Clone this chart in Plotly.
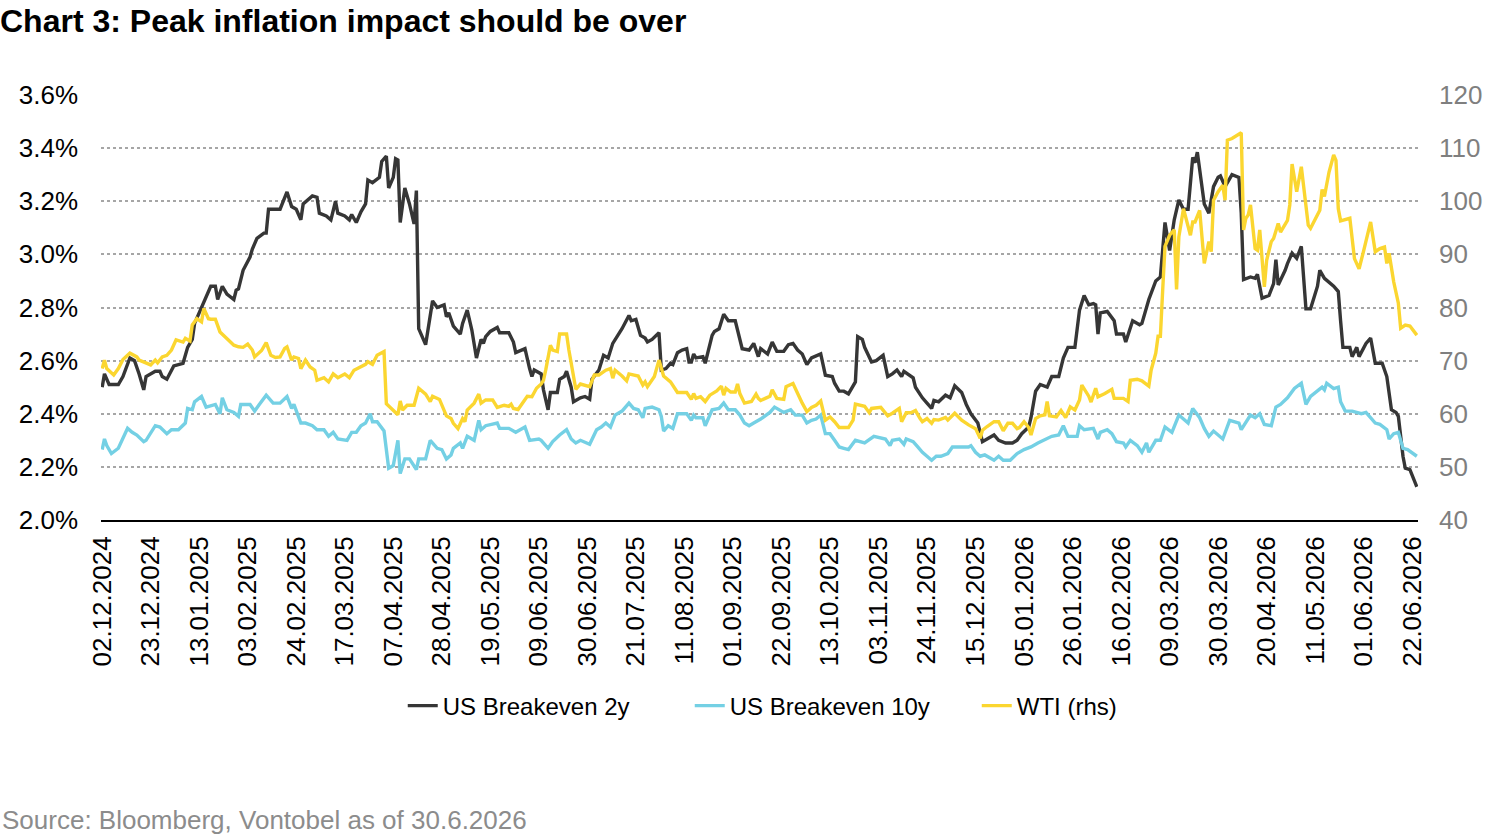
import plotly.graph_objects as go

# ---------------- data ----------------
be2y = [("2024-12-02",2.50),("2024-12-03",2.55),("2024-12-05",2.51),("2024-12-09",2.51),("2024-12-11",2.54),("2024-12-14",2.61),("2024-12-16",2.60),("2024-12-18",2.55),("2024-12-20",2.49),("2024-12-21",2.54),("2024-12-25",2.56),("2024-12-27",2.56),("2024-12-28",2.54),("2024-12-30",2.53),("2025-01-02",2.58),("2025-01-06",2.59),("2025-01-08",2.65),("2025-01-10",2.68),("2025-01-11",2.74),("2025-01-15",2.82),("2025-01-16",2.84),("2025-01-18",2.88),("2025-01-20",2.88),("2025-01-21",2.83),("2025-01-23",2.88),("2025-01-25",2.85),("2025-01-28",2.83),("2025-01-29",2.865),("2025-01-30",2.87),("2025-02-01",2.94),("2025-02-04",2.99),("2025-02-05",3.02),("2025-02-07",3.06),("2025-02-10",3.08),("2025-02-11",3.08),("2025-02-12",3.17),("2025-02-17",3.17),("2025-02-20",3.235),("2025-02-22",3.18),("2025-02-24",3.17),("2025-02-26",3.13),("2025-02-27",3.19),("2025-03-03",3.22),("2025-03-05",3.215),("2025-03-06",3.155),("2025-03-09",3.145),("2025-03-11",3.13),("2025-03-13",3.20),("2025-03-14",3.155),("2025-03-17",3.145),("2025-03-19",3.13),("2025-03-20",3.15),("2025-03-22",3.12),("2025-03-24",3.16),("2025-03-26",3.19),("2025-03-27",3.28),("2025-03-29",3.27),("2025-04-01",3.29),("2025-04-02",3.35),("2025-04-04",3.37),("2025-04-05",3.25),("2025-04-07",3.29),("2025-04-08",3.36),("2025-04-09",3.355),("2025-04-10",3.12),("2025-04-12",3.25),("2025-04-14",3.19),("2025-04-16",3.115),("2025-04-17",3.24),("2025-04-18",2.72),("2025-04-21",2.66),("2025-04-23",2.765),("2025-04-24",2.825),("2025-04-26",2.80),("2025-04-29",2.81),("2025-04-30",2.765),("2025-05-01",2.78),("2025-05-03",2.73),("2025-05-06",2.70),("2025-05-07",2.74),("2025-05-09",2.79),("2025-05-11",2.715),("2025-05-13",2.61),("2025-05-15",2.68),("2025-05-16",2.665),("2025-05-17",2.69),("2025-05-19",2.71),("2025-05-22",2.725),("2025-05-23",2.705),("2025-05-27",2.705),("2025-05-29",2.67),("2025-05-30",2.63),("2025-06-03",2.645),("2025-06-05",2.57),("2025-06-06",2.54),("2025-06-07",2.565),("2025-06-10",2.55),("2025-06-11",2.49),("2025-06-13",2.415),("2025-06-14",2.48),("2025-06-17",2.48),("2025-06-18",2.53),("2025-06-20",2.54),("2025-06-21",2.56),("2025-06-23",2.50),("2025-06-24",2.445),("2025-06-27",2.46),("2025-06-29",2.465),("2025-07-01",2.455),("2025-07-02",2.53),("2025-07-04",2.555),("2025-07-05",2.565),("2025-07-07",2.62),("2025-07-09",2.61),("2025-07-11",2.665),("2025-07-13",2.69),("2025-07-15",2.72),("2025-07-18",2.77),("2025-07-19",2.75),("2025-07-21",2.755),("2025-07-23",2.695),("2025-07-25",2.685),("2025-07-26",2.67),("2025-07-28",2.68),("2025-07-31",2.705),("2025-08-01",2.565),("2025-08-03",2.57),("2025-08-05",2.59),("2025-08-06",2.585),("2025-08-08",2.63),("2025-08-10",2.64),("2025-08-12",2.645),("2025-08-13",2.595),("2025-08-14",2.595),("2025-08-15",2.625),("2025-08-16",2.61),("2025-08-19",2.615),("2025-08-20",2.59),("2025-08-23",2.695),("2025-08-24",2.71),("2025-08-26",2.72),("2025-08-28",2.775),("2025-08-30",2.75),("2025-09-02",2.75),("2025-09-04",2.685),("2025-09-05",2.645),("2025-09-08",2.64),("2025-09-10",2.665),("2025-09-12",2.615),("2025-09-13",2.645),("2025-09-16",2.625),("2025-09-18",2.67),("2025-09-20",2.635),("2025-09-23",2.635),("2025-09-25",2.66),("2025-09-27",2.665),("2025-09-29",2.64),("2025-10-01",2.625),("2025-10-03",2.585),("2025-10-05",2.61),("2025-10-09",2.625),("2025-10-11",2.545),("2025-10-14",2.54),("2025-10-15",2.515),("2025-10-17",2.485),("2025-10-19",2.485),("2025-10-21",2.475),("2025-10-24",2.52),("2025-10-25",2.69),("2025-10-27",2.68),("2025-10-28",2.65),("2025-10-31",2.595),("2025-11-02",2.60),("2025-11-05",2.62),("2025-11-07",2.54),("2025-11-09",2.55),("2025-11-11",2.565),("2025-11-13",2.54),("2025-11-14",2.56),("2025-11-18",2.535),("2025-11-19",2.50),("2025-11-22",2.46),("2025-11-24",2.44),("2025-11-26",2.42),("2025-11-27",2.45),("2025-11-29",2.445),("2025-12-02",2.47),("2025-12-04",2.46),("2025-12-06",2.505),("2025-12-09",2.48),("2025-12-11",2.435),("2025-12-13",2.40),("2025-12-16",2.365),("2025-12-18",2.295),("2025-12-20",2.305),("2025-12-23",2.32),("2025-12-25",2.30),("2025-12-28",2.29),("2025-12-31",2.29),("2026-01-02",2.30),("2026-01-04",2.325),("2026-01-07",2.35),("2026-01-08",2.385),("2026-01-10",2.485),("2026-01-12",2.51),("2026-01-15",2.50),("2026-01-17",2.54),("2026-01-20",2.54),("2026-01-22",2.61),("2026-01-24",2.65),("2026-01-27",2.65),("2026-01-29",2.79),("2026-01-31",2.845),("2026-02-02",2.81),("2026-02-04",2.815),("2026-02-05",2.81),("2026-02-06",2.70),("2026-02-07",2.78),("2026-02-10",2.785),("2026-02-13",2.75),("2026-02-14",2.70),("2026-02-17",2.70),("2026-02-18",2.67),("2026-02-21",2.75),("2026-02-24",2.735),("2026-02-25",2.74),("2026-02-28",2.83),("2026-03-03",2.90),("2026-03-05",2.915),("2026-03-07",3.12),("2026-03-09",3.015),("2026-03-11",3.13),("2026-03-13",3.205),("2026-03-15",3.17),("2026-03-17",3.17),("2026-03-19",3.365),("2026-03-20",3.345),("2026-03-21",3.385),("2026-03-24",3.19),("2026-03-26",3.155),("2026-03-28",3.255),("2026-03-30",3.29),("2026-03-31",3.295),("2026-04-02",3.255),("2026-04-05",3.30),("2026-04-08",3.29),("2026-04-09",3.155),("2026-04-10",2.905),("2026-04-13",2.915),("2026-04-15",2.91),("2026-04-16",2.925),("2026-04-18",2.835),("2026-04-21",2.845),("2026-04-23",2.89),("2026-04-24",2.98),("2026-04-25",2.885),("2026-04-28",2.94),("2026-04-29",2.965),("2026-05-01",3.005),("2026-05-03",2.985),("2026-05-05",3.03),("2026-05-07",2.795),("2026-05-09",2.795),("2026-05-12",2.88),("2026-05-13",2.94),("2026-05-15",2.91),("2026-05-19",2.88),("2026-05-21",2.86),("2026-05-22",2.75),("2026-05-23",2.65),("2026-05-26",2.65),("2026-05-27",2.615),("2026-05-29",2.65),("2026-05-30",2.615),("2026-06-02",2.665),("2026-06-04",2.685),("2026-06-06",2.59),("2026-06-09",2.59),("2026-06-11",2.54),("2026-06-13",2.415),("2026-06-15",2.405),("2026-06-16",2.39),("2026-06-18",2.24),("2026-06-19",2.195),("2026-06-21",2.19),("2026-06-24",2.125)]

be10y = [("2024-12-02",2.265),("2024-12-03",2.305),("2024-12-04",2.28),("2024-12-06",2.25),("2024-12-09",2.27),("2024-12-11",2.31),("2024-12-13",2.345),("2024-12-15",2.33),("2024-12-17",2.32),("2024-12-20",2.295),("2024-12-21",2.30),("2024-12-25",2.355),("2024-12-27",2.35),("2024-12-30",2.325),("2025-01-01",2.34),("2025-01-04",2.34),("2025-01-07",2.365),("2025-01-08",2.42),("2025-01-10",2.415),("2025-01-11",2.445),("2025-01-14",2.465),("2025-01-16",2.425),("2025-01-20",2.435),("2025-01-22",2.40),("2025-01-23",2.46),("2025-01-25",2.415),("2025-01-28",2.405),("2025-01-30",2.39),("2025-01-31",2.435),("2025-02-04",2.435),("2025-02-06",2.41),("2025-02-08",2.435),("2025-02-11",2.47),("2025-02-14",2.44),("2025-02-17",2.44),("2025-02-20",2.465),("2025-02-22",2.42),("2025-02-23",2.435),("2025-02-26",2.365),("2025-02-28",2.365),("2025-03-03",2.355),("2025-03-05",2.34),("2025-03-08",2.34),("2025-03-10",2.315),("2025-03-12",2.33),("2025-03-14",2.305),("2025-03-18",2.30),("2025-03-20",2.33),("2025-03-22",2.33),("2025-03-24",2.355),("2025-03-26",2.365),("2025-03-28",2.40),("2025-03-29",2.37),("2025-03-31",2.37),("2025-04-03",2.335),("2025-04-05",2.195),("2025-04-07",2.205),("2025-04-09",2.30),("2025-04-10",2.175),("2025-04-12",2.23),("2025-04-14",2.23),("2025-04-17",2.19),("2025-04-18",2.23),("2025-04-21",2.23),("2025-04-23",2.30),("2025-04-26",2.27),("2025-04-28",2.265),("2025-04-30",2.23),("2025-05-02",2.245),("2025-05-03",2.27),("2025-05-06",2.29),("2025-05-07",2.27),("2025-05-09",2.315),("2025-05-12",2.30),("2025-05-14",2.375),("2025-05-15",2.34),("2025-05-17",2.355),("2025-05-22",2.365),("2025-05-23",2.345),("2025-05-27",2.345),("2025-05-30",2.33),("2025-06-03",2.35),("2025-06-05",2.30),("2025-06-09",2.305),("2025-06-10",2.30),("2025-06-13",2.27),("2025-06-15",2.295),("2025-06-18",2.32),("2025-06-21",2.34),("2025-06-23",2.305),("2025-06-25",2.29),("2025-06-27",2.30),("2025-07-01",2.285),("2025-07-04",2.34),("2025-07-06",2.35),("2025-07-08",2.365),("2025-07-10",2.35),("2025-07-12",2.395),("2025-07-15",2.41),("2025-07-18",2.44),("2025-07-20",2.42),("2025-07-22",2.415),("2025-07-24",2.385),("2025-07-25",2.42),("2025-07-28",2.425),("2025-07-31",2.415),("2025-08-01",2.39),("2025-08-02",2.335),("2025-08-04",2.355),("2025-08-06",2.345),("2025-08-08",2.40),("2025-08-12",2.40),("2025-08-14",2.375),("2025-08-15",2.395),("2025-08-16",2.385),("2025-08-19",2.385),("2025-08-20",2.355),("2025-08-23",2.415),("2025-08-26",2.42),("2025-08-28",2.44),("2025-08-30",2.415),("2025-09-02",2.415),("2025-09-04",2.395),("2025-09-06",2.365),("2025-09-08",2.355),("2025-09-10",2.365),("2025-09-13",2.38),("2025-09-17",2.405),("2025-09-19",2.425),("2025-09-23",2.405),("2025-09-26",2.415),("2025-09-28",2.395),("2025-10-01",2.395),("2025-10-03",2.365),("2025-10-05",2.375),("2025-10-07",2.38),("2025-10-09",2.395),("2025-10-11",2.325),("2025-10-13",2.325),("2025-10-15",2.30),("2025-10-17",2.275),("2025-10-19",2.27),("2025-10-21",2.265),("2025-10-24",2.30),("2025-10-28",2.29),("2025-11-01",2.315),("2025-11-06",2.305),("2025-11-08",2.28),("2025-11-09",2.30),("2025-11-12",2.305),("2025-11-14",2.285),("2025-11-15",2.305),("2025-11-18",2.295),("2025-11-20",2.275),("2025-11-22",2.255),("2025-11-24",2.24),("2025-11-26",2.225),("2025-11-28",2.24),("2025-11-30",2.24),("2025-12-03",2.25),("2025-12-05",2.275),("2025-12-12",2.275),("2025-12-13",2.28),("2025-12-15",2.255),("2025-12-17",2.24),("2025-12-19",2.245),("2025-12-23",2.225),("2025-12-25",2.24),("2025-12-27",2.225),("2025-12-30",2.225),("2026-01-02",2.25),("2026-01-05",2.265),("2026-01-08",2.275),("2026-01-11",2.29),("2026-01-15",2.305),("2026-01-17",2.315),("2026-01-20",2.32),("2026-01-22",2.355),("2026-01-24",2.315),("2026-01-28",2.315),("2026-01-29",2.355),("2026-01-31",2.34),("2026-02-04",2.345),("2026-02-06",2.305),("2026-02-07",2.33),("2026-02-10",2.34),("2026-02-12",2.325),("2026-02-14",2.295),("2026-02-17",2.29),("2026-02-18",2.275),("2026-02-20",2.30),("2026-02-23",2.28),("2026-02-25",2.255),("2026-02-27",2.29),("2026-02-28",2.255),("2026-03-03",2.30),("2026-03-05",2.30),("2026-03-07",2.35),("2026-03-10",2.33),("2026-03-13",2.395),("2026-03-15",2.38),("2026-03-17",2.365),("2026-03-19",2.42),("2026-03-22",2.385),("2026-03-24",2.345),("2026-03-26",2.315),("2026-03-28",2.335),("2026-03-30",2.32),("2026-04-01",2.305),("2026-04-04",2.375),("2026-04-08",2.365),("2026-04-09",2.34),("2026-04-13",2.395),("2026-04-15",2.385),("2026-04-17",2.40),("2026-04-19",2.36),("2026-04-22",2.355),("2026-04-24",2.425),("2026-04-26",2.435),("2026-04-29",2.46),("2026-05-02",2.495),("2026-05-05",2.515),("2026-05-07",2.435),("2026-05-09",2.465),("2026-05-12",2.485),("2026-05-14",2.50),("2026-05-15",2.49),("2026-05-16",2.515),("2026-05-19",2.495),("2026-05-21",2.50),("2026-05-22",2.445),("2026-05-24",2.41),("2026-05-27",2.41),("2026-05-29",2.405),("2026-05-31",2.40),("2026-06-02",2.405),("2026-06-06",2.365),("2026-06-08",2.36),("2026-06-11",2.34),("2026-06-12",2.305),("2026-06-14",2.325),("2026-06-16",2.33),("2026-06-18",2.27),("2026-06-20",2.265),("2026-06-24",2.24)]

wti = [("2024-12-02",68.5),("2024-12-03",70.1),("2024-12-04",68.5),("2024-12-07",67.3),("2024-12-09",68.5),("2024-12-11",70.2),("2024-12-14",71.4),("2024-12-17",70.7),("2024-12-18",70.1),("2024-12-20",69.8),("2024-12-23",69.2),("2024-12-25",70.1),("2024-12-26",69.6),("2024-12-28",70.7),("2024-12-30",71.0),("2025-01-01",72.0),("2025-01-03",73.9),("2025-01-06",73.5),("2025-01-07",74.2),("2025-01-09",73.7),("2025-01-10",76.7),("2025-01-12",77.9),("2025-01-14",77.3),("2025-01-15",79.8),("2025-01-17",77.9),("2025-01-18",77.8),("2025-01-20",77.8),("2025-01-22",75.4),("2025-01-25",74.2),("2025-01-28",72.9),("2025-01-30",72.6),("2025-02-01",72.5),("2025-02-03",73.1),("2025-02-05",72.0),("2025-02-06",70.7),("2025-02-09",71.9),("2025-02-11",73.4),("2025-02-13",71.0),("2025-02-15",70.6),("2025-02-17",70.7),("2025-02-19",72.3),("2025-02-20",72.6),("2025-02-22",70.1),("2025-02-23",70.7),("2025-02-25",70.4),("2025-02-26",68.5),("2025-02-28",70.1),("2025-03-02",68.8),("2025-03-04",68.2),("2025-03-05",66.3),("2025-03-08",66.8),("2025-03-10",66.0),("2025-03-12",67.5),("2025-03-14",66.8),("2025-03-17",67.5),("2025-03-19",66.8),("2025-03-21",68.2),("2025-03-24",68.8),("2025-03-26",69.3),("2025-03-27",69.8),("2025-03-29",69.3),("2025-03-31",71.0),("2025-04-03",71.7),("2025-04-04",61.9),("2025-04-07",60.6),("2025-04-09",59.8),("2025-04-10",62.4),("2025-04-11",60.7),("2025-04-13",61.6),("2025-04-16",61.6),("2025-04-18",64.8),("2025-04-21",63.7),("2025-04-23",62.3),("2025-04-24",63.3),("2025-04-27",62.7),("2025-04-28",61.6),("2025-04-30",59.6),("2025-05-02",59.1),("2025-05-03",58.2),("2025-05-05",57.2),("2025-05-07",59.1),("2025-05-08",58.5),("2025-05-09",60.7),("2025-05-12",62.0),("2025-05-14",63.7),("2025-05-15",62.0),("2025-05-17",62.6),("2025-05-20",62.6),("2025-05-22",61.2),("2025-05-25",61.6),("2025-05-27",61.4),("2025-05-28",61.8),("2025-05-29",61.0),("2025-05-31",60.8),("2025-06-02",62.1),("2025-06-04",63.3),("2025-06-06",63.2),("2025-06-08",64.8),("2025-06-10",65.6),("2025-06-11",66.3),("2025-06-12",68.3),("2025-06-14",72.9),("2025-06-15",72.0),("2025-06-17",71.7),("2025-06-18",75.0),("2025-06-21",75.0),("2025-06-22",72.0),("2025-06-25",64.6),("2025-06-27",65.6),("2025-07-01",65.1),("2025-07-03",67.3),("2025-07-05",67.3),("2025-07-08",68.2),("2025-07-10",68.5),("2025-07-11",66.7),("2025-07-12",68.2),("2025-07-15",67.1),("2025-07-17",66.2),("2025-07-18",67.5),("2025-07-22",67.1),("2025-07-24",65.4),("2025-07-25",66.0),("2025-07-26",65.1),("2025-07-29",67.0),("2025-07-31",70.1),("2025-08-01",68.7),("2025-08-02",67.1),("2025-08-05",66.0),("2025-08-07",64.5),("2025-08-08",64.0),("2025-08-12",64.0),("2025-08-14",62.7),("2025-08-15",63.8),("2025-08-16",62.9),("2025-08-18",63.2),("2025-08-20",62.3),("2025-08-22",63.5),("2025-08-25",64.3),("2025-08-27",65.2),("2025-08-28",63.5),("2025-08-29",64.8),("2025-08-31",64.1),("2025-09-02",64.1),("2025-09-03",65.6),("2025-09-04",63.8),("2025-09-06",62.0),("2025-09-09",62.3),("2025-09-11",63.7),("2025-09-12",62.9),("2025-09-13",62.5),("2025-09-15",62.9),("2025-09-17",63.3),("2025-09-18",64.5),("2025-09-20",62.9),("2025-09-23",62.7),("2025-09-24",65.1),("2025-09-27",65.7),("2025-09-29",63.8),("2025-10-01",62.0),("2025-10-03",60.4),("2025-10-05",61.2),("2025-10-07",61.6),("2025-10-09",62.4),("2025-10-11",58.8),("2025-10-13",59.4),("2025-10-15",58.5),("2025-10-17",57.4),("2025-10-21",57.4),("2025-10-23",58.8),("2025-10-24",61.8),("2025-10-27",61.6),("2025-10-28",61.4),("2025-10-30",60.2),("2025-10-31",61.0),("2025-11-04",61.2),("2025-11-05",60.7),("2025-11-07",59.6),("2025-11-09",60.1),("2025-11-12",61.0),("2025-11-13",58.5),("2025-11-15",60.2),("2025-11-17",60.2),("2025-11-19",60.6),("2025-11-21",59.1),("2025-11-22",58.5),("2025-11-24",59.1),("2025-11-26",58.2),("2025-11-27",58.9),("2025-11-29",58.8),("2025-12-02",59.3),("2025-12-03",58.8),("2025-12-06",60.1),("2025-12-09",58.8),("2025-12-12",57.9),("2025-12-15",57.2),("2025-12-17",55.4),("2025-12-18",56.9),("2025-12-20",57.6),("2025-12-23",58.5),("2025-12-25",58.5),("2025-12-27",56.8),("2025-12-29",58.2),("2025-12-31",58.2),("2026-01-02",57.2),("2026-01-03",57.4),("2026-01-05",58.5),("2026-01-07",57.4),("2026-01-08",56.0),("2026-01-10",59.1),("2026-01-12",59.6),("2026-01-14",59.8),("2026-01-15",62.3),("2026-01-16",59.6),("2026-01-19",59.4),("2026-01-21",60.6),("2026-01-23",59.3),("2026-01-25",61.3),("2026-01-27",60.7),("2026-01-29",62.6),("2026-01-30",65.4),("2026-02-02",63.3),("2026-02-03",62.2),("2026-02-05",64.8),("2026-02-06",63.2),("2026-02-09",63.8),("2026-02-12",64.6),("2026-02-13",62.9),("2026-02-17",62.9),("2026-02-19",62.3),("2026-02-20",66.3),("2026-02-23",66.5),("2026-02-25",66.2),("2026-02-28",65.2),("2026-03-01",68.2),("2026-03-03",71.4),("2026-03-04",74.6),("2026-03-05",74.6),("2026-03-06",83.3),("2026-03-07",91.5),("2026-03-09",93.6),("2026-03-11",94.6),("2026-03-12",83.4),("2026-03-13",93.3),("2026-03-15",98.6),("2026-03-16",96.8),("2026-03-18",93.6),("2026-03-19",96.1),("2026-03-20",96.1),("2026-03-22",98.3),("2026-03-24",88.3),("2026-03-26",92.4),("2026-03-27",90.5),("2026-03-28",100.2),("2026-03-30",101.8),("2026-04-01",103.0),("2026-04-02",100.2),("2026-04-03",111.5),("2026-04-05",111.8),("2026-04-09",112.9),("2026-04-10",94.6),("2026-04-11",96.8),("2026-04-12",97.4),("2026-04-13",99.3),("2026-04-15",91.1),("2026-04-16",90.8),("2026-04-17",94.6),("2026-04-19",83.9),("2026-04-20",88.9),("2026-04-22",92.4),("2026-04-23",93.0),("2026-04-25",95.8),("2026-04-26",94.2),("2026-04-29",96.4),("2026-04-30",99.3),("2026-05-01",107.0),("2026-05-03",101.8),("2026-05-05",106.5),("2026-05-08",95.5),("2026-05-09",94.9),("2026-05-13",98.3),("2026-05-14",102.2),("2026-05-15",100.9),("2026-05-17",105.5),("2026-05-19",108.7),("2026-05-20",107.7),("2026-05-21",98.6),("2026-05-22",96.3),("2026-05-26",96.8),("2026-05-28",89.2),("2026-05-30",87.3),("2026-06-01",90.7),("2026-06-04",96.1),("2026-06-06",90.5),("2026-06-08",91.1),("2026-06-10",91.4),("2026-06-11",88.3),("2026-06-12",90.2),("2026-06-14",84.8),("2026-06-16",80.8),("2026-06-17",76.1),("2026-06-19",76.7),("2026-06-21",76.5),("2026-06-24",74.8)]

series_names = ["US Breakeven 2y", "US Breakeven 10y", "WTI (rhs)"]
series_colors = ["#363636", "#74d0e4", "#fbd630"]

title_text = "Chart 3: Peak inflation impact should be over"
source_text = "Source: Bloomberg, Vontobel as of 30.6.2026"


def unzip(pairs):
    return [p[0] for p in pairs], [p[1] for p in pairs]


FONT = "Liberation Sans, Arial, Helvetica, sans-serif"

fig = go.Figure()
for pairs, name, color, axis in [(be2y, series_names[0], series_colors[0], "y"),
                                 (be10y, series_names[1], series_colors[1], "y"),
                                 (wti, series_names[2], series_colors[2], "y2")]:
    xs, ys = unzip(pairs)
    fig.add_trace(go.Scatter(x=xs, y=ys, name=name, mode="lines", yaxis=axis,
                             line=dict(color=color, width=3.4)))

fig.update_layout(
    width=1500, height=835,
    margin=dict(l=101, r=82, t=95, b=315, pad=0),
    paper_bgcolor="white", plot_bgcolor="white",
    font=dict(family=FONT, size=26, color="#000000"),
    title=dict(text="<b>" + title_text + "</b>", x=0.0, xref="container", xanchor="left",
               y=1 - 21 / 835, yref="container", yanchor="middle",
               font=dict(family=FONT, size=32, color="#000000")),
    xaxis=dict(type="date", range=["2024-12-01 12:00", "2026-06-24 12:00"],
               tick0="2024-12-02", dtick=21 * 86400000, tickformat="%d.%m.%Y",
               tickangle=-90, showgrid=False, zeroline=False,
               showline=True, linecolor="#000000", linewidth=2,
               ticks="", ticklabelstandoff=4, tickfont=dict(size=26)),
    yaxis=dict(range=[2.0, 3.6], tick0=2.0, dtick=0.2, tickformat=".1f", ticksuffix="%",
               showgrid=True, gridcolor="#a6a6a6", griddash="dot", gridwidth=1.5,
               zeroline=False, showline=False, ticks="", ticklabelstandoff=22,
               tickfont=dict(size=26, color="#000000")),
    yaxis2=dict(range=[40, 120], tick0=40, dtick=10, overlaying="y", side="right",
                showgrid=False, zeroline=False, showline=False, ticks="",
                ticklabelstandoff=20, tickfont=dict(size=26, color="#7f7f7f")),
    legend=dict(orientation="h", x=0.556, xanchor="center", y=-0.4376, yanchor="middle",
                font=dict(size=24, color="#000000"), bgcolor="rgba(0,0,0,0)",
                entrywidth=242, entrywidthmode="pixels", tracegroupgap=0),
    showlegend=True,
    annotations=[dict(text=source_text, xref="paper", yref="paper",
                      x=-101 / 1317, y=(520 - 820) / 425, xanchor="left", yanchor="middle",
                      showarrow=False, font=dict(family=FONT, size=26, color="#8c8c8c"))],
)

fig.write_html("out.html")
